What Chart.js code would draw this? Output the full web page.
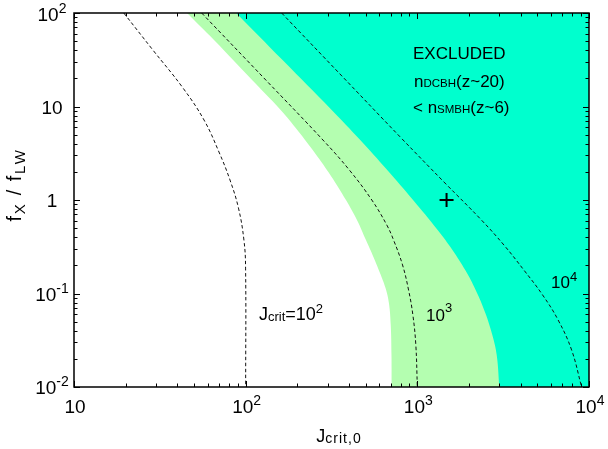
<!DOCTYPE html>
<html>
<head>
<meta charset="utf-8">
<script src="https://cdn.jsdelivr.net/npm/chart.js@4.4.1/dist/chart.umd.min.js"></script>
<style>
  html, body { margin: 0; padding: 0; background: #fff; }
  #wrap { width: 608px; height: 449px; }
</style>
</head>
<body>
<div id="wrap"><canvas id="c" width="608" height="449"></canvas></div>
<script>
// ---- axis ticks ----
const xMajorTicks = [10, 100, 1000, 10000];
const xTickLabels = [['10', ''], ['10', '2'], ['10', '3'], ['10', '4']];
const yMajorTicks = [100, 10, 1, 0.1, 0.01];
const yTickLabels = [['10', '2'], ['10', ''], ['1', ''], ['10', '-1'], ['10', '-2']];
const minorSteps = [2, 3, 4, 5, 6, 7, 8, 9];

// ---- constant-Jcrit contours (dashed) ----
const jcrit100X = [19.5, 28.8, 43.1, 57.2, 69.9, 81.0, 90.8, 97.7, 99.9, 100];
const jcrit100Y = [100, 40.2, 15.8, 7.17, 3.26, 1.64, 0.82, 0.373, 0.187, 0.01];

const jcrit1000X = [55.4, 131, 282, 402, 543, 664, 727, 820, 889, 942, 980, 1000];
const jcrit1000Y = [100, 19.2, 4.38, 2.09, 1, 0.54, 0.373, 0.202, 0.109, 0.0589, 0.0281, 0.01];

const jcrit10000X = [162, 359, 792, 1448, 2362, 3194, 4176, 5368, 6607, 7918, 9056];
const jcrit10000Y = [100, 21.7, 4.75, 1.52, 0.611, 0.33, 0.178, 0.0964, 0.0521, 0.0249, 0.01];

// ---- allowed band (light green): lower-left edge, continued below the axis ----
const bandX = [45.5, 65.4, 109, 158, 202, 253, 314, 384, 445, 502, 555, 606, 652, 683, 700, 707, 708, 710, 100000];
const bandY = [100, 51.4, 19.2, 9.4, 5.47, 3.18, 1.81, 1, 0.611, 0.373, 0.246, 0.166, 0.115, 0.0792, 0.046, 0.022, 0.01, 0.005, 0.005];

// ---- excluded region (cyan): lower-left edge, continued below the axis ----
const exclX = [88.1, 164, 317, 465, 668, 944, 1313, 1601, 1901, 2186, 2489, 2734, 2900, 3003, 3090, 100000];
const exclY = [100, 31.4, 9.18, 4.38, 2.09, 1, 0.478, 0.292, 0.178, 0.109, 0.0619, 0.036, 0.022, 0.01, 0.005, 0.005];

// ---- marked point ----
const markX = [1480];
const markY = [1];

const FONT = '"Liberation Sans", Arial, Helvetica, sans-serif';
const pts = (xs, ys) => xs.map((x, i) => ({ x: x, y: ys[i] }));

// draws a row of text runs: [text, size, dy, extraSpacing]
function richText(ctx, runs, x, y, align) {
  const runWidth = r => {
    ctx.font = r[1] + 'px ' + FONT;
    const sp = r[3] || 0;
    if (!sp) return ctx.measureText(r[0]).width;
    let w = 0;
    for (const ch of r[0]) w += ctx.measureText(ch).width + sp;
    return w;
  };
  const widths = runs.map(runWidth);
  const total = widths.reduce((a, b) => a + b, 0);
  let cx = align === 'center' ? x - total / 2 : (align === 'right' ? x - total : x);
  runs.forEach((r, i) => {
    ctx.font = r[1] + 'px ' + FONT;
    const sp = r[3] || 0;
    if (!sp) {
      ctx.fillText(r[0], cx, y + (r[2] || 0));
    } else {
      let px = cx;
      for (const ch of r[0]) {
        ctx.fillText(ch, px, y + (r[2] || 0));
        px += ctx.measureText(ch).width + sp;
      }
    }
    cx += widths[i];
  });
}

const framePlugin = {
  id: 'frame',
  afterDatasetsDraw(chart) {
    const { ctx, chartArea: a, scales: { x, y } } = chart;
    ctx.save();
    ctx.strokeStyle = '#000';
    ctx.fillStyle = '#000';
    ctx.textAlign = 'left';
    ctx.textBaseline = 'alphabetic';

    // tick marks on all four sides, pointing inward
    ctx.lineWidth = 1;
    const majorLen = 6, minorLen = 3.5;
    ctx.beginPath();
    xMajorTicks.forEach((d, i) => {
      const px = Math.round(x.getPixelForValue(d)) + 0.5;
      ctx.moveTo(px, a.bottom); ctx.lineTo(px, a.bottom - majorLen);
      ctx.moveTo(px, a.top); ctx.lineTo(px, a.top + majorLen);
      if (i < xMajorTicks.length - 1) {
        minorSteps.forEach(m => {
          const mx = Math.round(x.getPixelForValue(d * m)) + 0.5;
          ctx.moveTo(mx, a.bottom); ctx.lineTo(mx, a.bottom - minorLen);
          ctx.moveTo(mx, a.top); ctx.lineTo(mx, a.top + minorLen);
        });
      }
    });
    yMajorTicks.forEach((d, i) => {
      const py = Math.round(y.getPixelForValue(d)) + 0.5;
      ctx.moveTo(a.left, py); ctx.lineTo(a.left + majorLen, py);
      ctx.moveTo(a.right, py); ctx.lineTo(a.right - majorLen, py);
      if (i > 0) {
        minorSteps.forEach(m => {
          const my = Math.round(y.getPixelForValue(d * m)) + 0.5;
          ctx.moveTo(a.left, my); ctx.lineTo(a.left + minorLen, my);
          ctx.moveTo(a.right, my); ctx.lineTo(a.right - minorLen, my);
        });
      }
    });
    ctx.stroke();

    // frame
    ctx.lineWidth = 1.5;
    ctx.strokeRect(a.left, a.top, a.right - a.left, a.bottom - a.top);

    // tick labels
    xMajorTicks.forEach((d, i) => {
      const [base, sup] = xTickLabels[i];
      richText(ctx, [[base, 19, 0], [sup, 14, -8]], x.getPixelForValue(d) + 1, a.bottom + 26, 'center');
    });
    yMajorTicks.forEach((d, i) => {
      const [base, sup] = yTickLabels[i];
      const py = y.getPixelForValue(d);
      const by = Math.max(py + 7, 21);
      richText(ctx, [[base, 19, 0], [sup, 14, -8]], 52, by, 'center');
    });

    // axis titles
    richText(ctx, [['J', 18, 0], ['crit,0', 14, 1, 1]], 339, a.bottom + 55, 'center');
    ctx.save();
    ctx.translate(21, 185);
    ctx.rotate(-Math.PI / 2);
    richText(ctx, [['f', 20, 0, 1.5], ['X', 15, 4, 2], [' / ', 20, 0, 1.5], ['f', 20, 0, 1.5], ['LW', 15, 4, 1.5]], 0, 0, 'center');
    ctx.restore();

    // contour labels
    richText(ctx, [['J', 18, 0], ['crit', 13, 1], ['=10', 18, 0], ['2', 13, -7]], 259, 320, 'left');
    richText(ctx, [['10', 17, 0], ['3', 13, -9]], 426, 321, 'left');
    richText(ctx, [['10', 17, 0], ['4', 13, -7]], 551, 288, 'left');

    // region annotation
    richText(ctx, [['EXCLUDED', 17, 0]], 413, 59, 'left');
    richText(ctx, [['n', 17, 0], ['DCBH', 11.5, 0], ['(z~20)', 17, 0]], 414, 87, 'left');
    richText(ctx, [['< n', 17, 0], ['SMBH', 11.5, 0], ['(z~6)', 17, 0]], 413, 113, 'left');

    ctx.restore();
  }
};

const dashed = (xs, ys) => ({
  data: pts(xs, ys),
  borderColor: '#111',
  borderWidth: 1,
  borderDash: [3.5, 2.5],
  pointRadius: 0,
  fill: false,
  tension: 0.4
});

const region = (xs, ys, color) => ({
  data: pts(xs, ys),
  borderWidth: 0,
  borderColor: 'rgba(0,0,0,0)',
  backgroundColor: color,
  pointRadius: 0,
  fill: 'end',
  tension: 0.4
});

new Chart(document.getElementById('c'), {
  type: 'line',
  data: {
    datasets: [
      dashed(jcrit100X, jcrit100Y),
      dashed(jcrit1000X, jcrit1000Y),
      dashed(jcrit10000X, jcrit10000Y),
      {
        data: pts(markX, markY),
        showLine: false,
        pointStyle: 'cross',
        pointRadius: 7,
        borderColor: '#000',
        borderWidth: 2,
        backgroundColor: '#000'
      },
      region(exclX, exclY, 'rgb(0,255,206)'),
      region(bandX, bandY, 'rgb(180,254,176)')
    ]
  },
  options: {
    responsive: false,
    animation: false,
    devicePixelRatio: 1,
    layout: { padding: { left: 74, right: 19, top: 13, bottom: 62 } },
    elements: { line: { capBezierPoints: false } },
    plugins: { legend: { display: false }, tooltip: { enabled: false } },
    scales: {
      x: { type: 'logarithmic', min: 10, max: 10000, display: false },
      y: { type: 'logarithmic', min: 0.01, max: 100, display: false }
    }
  },
  plugins: [framePlugin]
});
</script>
</body>
</html>
